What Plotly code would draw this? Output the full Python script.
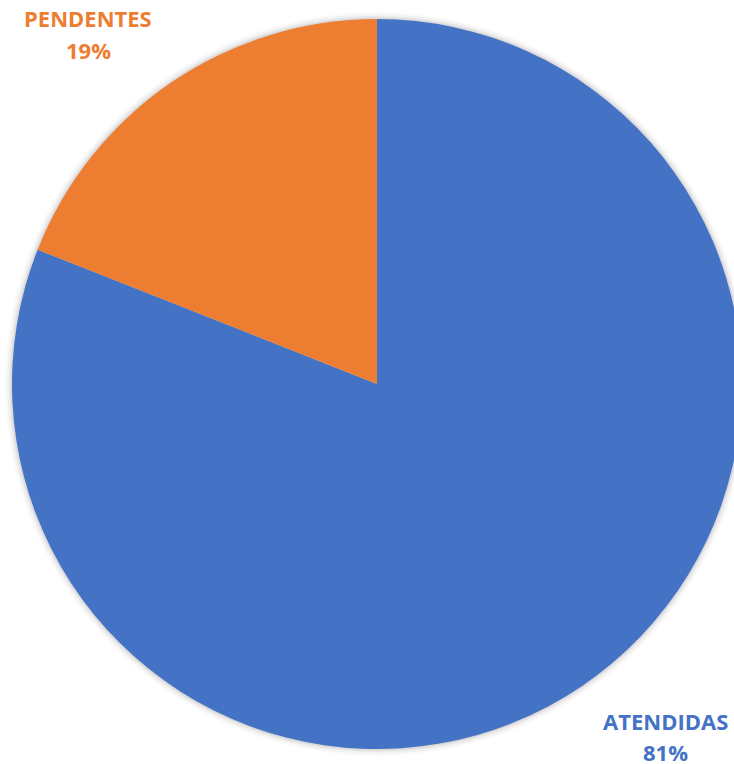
import plotly.graph_objects as go

categories = ["ATENDIDAS", "PENDENTES"]
values = [81, 19]
colors = ["#4472C4", "#ED7D31"]

W, H = 752, 764
cx, cy, r = 377, 384, 365  # pixel layout of the pie inside the figure

def dom(pad):
    return dict(
        x=[max(0, (cx - r - pad) / W), min(1, (cx + r + pad) / W)],
        y=[max(0, (H - cy - r - pad) / H), min(1, (H - cy + r + pad) / H)],
    )

fig = go.Figure()

# soft glow/shadow behind the pie
for pad, a in [(7, 0.02), (5, 0.03), (3, 0.045), (1.5, 0.06)]:
    fig.add_trace(go.Pie(
        values=[sum(values)], labels=["shadow"], marker=dict(colors=[f"rgba(0,0,0,{a})"]),
        textinfo="none", hoverinfo="skip", sort=False, showlegend=False, domain=dom(pad),
    ))

fig.add_trace(go.Pie(
    labels=categories, values=values, sort=False, direction="clockwise", rotation=0,
    marker=dict(colors=colors, line=dict(width=0)),
    textinfo="none", showlegend=False, domain=dom(0),
))

total = sum(values)
pos = {
    "PENDENTES": (88, 18, 50),
    "ATENDIDAS": (665, 721, 752),
}
for cat, val, col in zip(categories, values, colors):
    x, y1, y2 = pos[cat]
    pct = f"{round(val / total * 100)}%"
    for txt, yy in [(cat, y1), (pct, y2)]:
        fig.add_annotation(
            x=x / W, y=1 - yy / H, xref="paper", yref="paper",
            text=f"<b>{txt}</b>", showarrow=False, xanchor="center", yanchor="middle",
            font=dict(family="Open Sans", size=22, color=col),
        )

fig.update_layout(
    width=W, height=H, margin=dict(l=0, r=0, t=0, b=0),
    paper_bgcolor="white", plot_bgcolor="white",
)
fig.write_html(
    "out.html",
    config={"displayModeBar": False},
    post_script="document.body.style.margin='0';document.body.style.overflow='hidden';",
)
